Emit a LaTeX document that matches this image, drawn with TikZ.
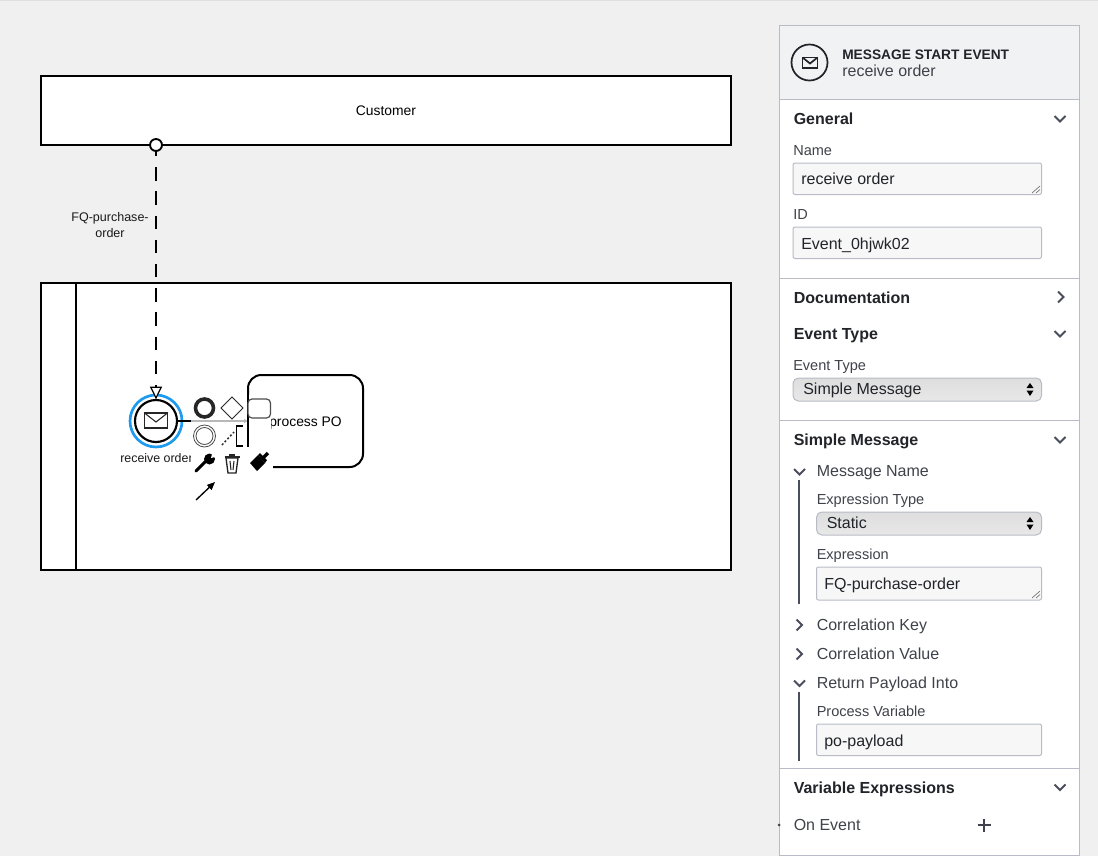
\documentclass[tikz,border=0pt]{standalone}
\usepackage{fontspec}
\setmainfont{Liberation Sans}
\usetikzlibrary{arrows.meta}
\definecolor{canvasbg}{HTML}{F0F0F0}
\definecolor{panelline}{HTML}{B9BCC6}
\definecolor{headbg}{HTML}{F1F2F4}
\definecolor{fieldbg}{HTML}{F7F7F8}
\definecolor{ink}{HTML}{22242A}
\definecolor{soft}{HTML}{3F424A}
\definecolor{chev}{HTML}{4A4E5C}
\definecolor{selblue}{HTML}{1E9BEF}
\newcommand{\fs}[1]{\fontsize{#1}{#1}\selectfont}
\tikzset{
  x=0.75pt,y=-0.75pt,
  band/.style={draw=black,fill=white,line width=1.4pt,minimum width=517.5pt,inner sep=0,outer sep=0},
  diag/.style={text=black!90,inner sep=0},
  head/.style={anchor=base west,inner sep=0,font=\bfseries\fs{12pt},text=ink},
  lab/.style={anchor=base west,inner sep=0,font=\fs{10.9pt},text=soft},
  sub/.style={anchor=base west,inner sep=0,font=\fs{12pt},text=soft},
  val/.style={anchor=base west,inner sep=0,font=\fs{12pt},text=ink},
  fieldbox/.style={draw=panelline,fill=fieldbg,line width=.75pt,rounded corners=1.5pt},
  selbox/.style={draw=panelline,line width=.75pt,rounded corners=4pt,top color=black!13,middle color=black!3,bottom color=black!9},
  chevron/.style={draw=chev,line width=1.5pt},
  rail/.style={draw=chev,line width=1.5pt},
  sep/.style={draw=panelline,line width=.75pt},
  padicon/.style={draw=black!85,line width=.75pt,fill=white},
  handle/.style={draw=black!55,line width=.5pt}
}
\begin{document}
\begin{tikzpicture}
\useasboundingbox (0,0) rectangle (1098,856);
\fill[canvasbg] (0,0) rectangle (1098,856);
\draw[black!12,line width=.75pt] (0,0.5) -- (1098,0.5);

% diagram
\node[band,minimum height=51.75pt,font=\fs{10.4pt}] (customer) at (386,110.5) {Customer};
\node[band,minimum height=215.25pt] (lane) at (386,426.5) {};
\draw[black,line width=1.4pt] (75.8,283) -- (75.8,570);
\node[draw=black,fill=white,line width=1.5pt,rounded corners=10pt,minimum width=86.25pt,minimum height=69pt,inner sep=0,outer sep=0,font=\fs{10.4pt}] (task) at (305.5,421) {\raisebox{-3.75pt}[0pt][0pt]{process PO}};
\draw[selblue,line width=2pt] (156,421) circle (26);
\node[circle,draw=black,fill=white,line width=1.6pt,minimum size=31.5pt,inner sep=0,outer sep=0] (event) at (156,421) {};
\draw[black!85,line width=.8pt,fill=white] (144.5,413) rectangle (167.5,428);
\draw[black!85,line width=.8pt] (144.5,413) -- (156,422) -- (167.5,413);
\node[diag,font=\fs{9.3pt}] (eventlabel) at (156.5,458) {receive order};
\node[circle,draw=black,fill=white,line width=1.4pt,minimum size=9pt,inner sep=0,outer sep=0] (port) at (156,145) {};
\draw[black,line width=1.4pt,dash pattern=on 9.98pt off 8.17pt,dash phase=6pt,-{Triangle[open,fill=white,width=9pt,length=9.5pt,line width=.9pt]},shorten >=.5pt] (port.south) -- (event.north);
\node[diag,align=center,font=\fs{9.4pt}] (flowlabel) at (110,225) {FQ-purchase-\\[2.2pt]order};
\draw[black,line width=1.4pt,-{Triangle[width=3pt,length=3pt]}] (event.east) -- (task.west);

% context pad
\fill[white,opacity=.72] (191,395) rectangle (247,447);
\fill[white] (249,395) rectangle (271,447);
\fill[white] (191,447) rectangle (273,473);
\fill[white,opacity=.85] (191,473) rectangle (218,505);
\draw[black!85,line width=2.7pt] (204.5,408) circle (9);
\draw[padicon,line join=miter] (232,397) -- (243,408) -- (232,419) -- (221,408) -- cycle;
\draw[black!70,line width=.9pt,fill=white,rounded corners=3pt] (248,399) rectangle (270.5,418);
\draw[black!70,line width=.6pt] (204.5,436) circle (11);
\draw[black!70,line width=.6pt] (204.5,436) circle (8.5);
\draw[black!80,line width=1.1pt,dash pattern=on 1.5pt off 1.5pt] (222,445) -- (234,432);
\draw[black,line width=1pt] (243,426) -- (236.5,426) -- (236.5,446) -- (243,446);
% wrench
\draw[black,line width=2.2pt,line cap=round] (196,471) -- (207,460);
\fill[black] (209.5,459) circle (5.5);
\fill[white] (211,458) -- (213,450) -- (219,456) -- cycle;
% trash
\draw[black!85,line width=1pt,line join=round] (224.5,457) -- (239.5,457);
\draw[black!85,line width=1pt,fill=white] (226,458) -- (228,473) -- (236,473) -- (238,458) -- cycle;
\fill[black!85] (229,454) rectangle (235,457);
\draw[black!85,line width=.8pt] (230,461) -- (231,470) (234,461) -- (233,470);
% brush
\fill[black] (250,463) -- (258,455) -- (265,463) -- (257,471) -- cycle;
\fill[black] (258,455) -- (260,453) -- (267,460) -- (265,463) -- cycle;
\draw[black,line width=2.6pt] (262,459) -- (268,453);
% arrow icon
\draw[black,line width=1pt,-{Triangle[width=5pt,length=6pt]}] (196,500) -- (215,482);

% panel
\draw[panelline,fill=white,line width=.75pt] (779.5,26) rectangle (1079.5,855);
\fill[headbg] (780,26.5) rectangle (1079,99);
\draw[sep] (779.5,99) -- (1079.5,99);
\draw[sep] (779.5,278) -- (1079.5,278);
\draw[sep] (779.5,420.5) -- (1079.5,420.5);
\draw[sep] (779.5,768.5) -- (1079.5,768.5);
\draw[ink,line width=1.3pt] (809.5,62.5) circle (18);
\draw[ink,line width=1.3pt] (802.5,57.5) rectangle (817.5,68);
\draw[ink,line width=1.3pt] (802.5,57.5) -- (810,63.5) -- (817.5,57.5);
\node[anchor=base west,inner sep=0,font=\bfseries\fs{10.3pt},text=ink] (ptitle) at (842,59.5) {MESSAGE START EVENT};
\node[sub] (pname) at (842,76) {receive order};

\node[head] (hgeneral) at (793.5,124) {General};
\draw[chevron] (1054.5,116) -- (1060,121.5) -- (1065.5,116);
\node[lab] (lname) at (793,155) {Name};
\draw[fieldbox] (793,163) rectangle (1041.5,194.5);
\node[val] (vname) at (801,184) {receive order};
\draw[handle] (1032,193) -- (1040,186) (1036,193) -- (1040,189.5);
\node[lab] (lid) at (793,219) {ID};
\draw[fieldbox] (793,227) rectangle (1041.5,258.5);
\node[val] (vid) at (801,249) {Event\_0hjwk02};

\node[head] (hdoc) at (793.5,303) {Documentation};
\draw[chevron] (1058,291.5) -- (1063.5,297) -- (1058,302.5);
\node[head] (hetype) at (793.5,339) {Event Type};
\draw[chevron] (1054.5,331) -- (1060,336.5) -- (1065.5,331);
\node[lab] (letype) at (793,370) {Event Type};
\path[selbox] (793,378) rectangle (1041.5,401);
\node[val] (vetype) at (803,394) {Simple Message};
\fill[black] (1030,383) -- (1033.5,388) -- (1026.5,388) -- cycle;
\fill[black] (1030,396) -- (1033.5,390.5) -- (1026.5,390.5) -- cycle;

\node[head] (hsimple) at (793.5,445) {Simple Message};
\draw[chevron] (1054.5,437) -- (1060,442.5) -- (1065.5,437);
\draw[chevron] (794,469) -- (799.5,474.5) -- (805,469);
\node[sub] (lmname) at (816.5,476) {Message Name};
\draw[rail] (799,480) -- (799,604);
\node[lab] (lexptype) at (816.5,504) {Expression Type};
\path[selbox] (816.5,512) rectangle (1041.5,535);
\node[val] (vexptype) at (826.5,528) {Static};
\fill[black] (1030,517) -- (1033.5,522) -- (1026.5,522) -- cycle;
\fill[black] (1030,530) -- (1033.5,524.5) -- (1026.5,524.5) -- cycle;
\node[lab] (lexp) at (816.5,559) {Expression};
\draw[fieldbox] (816.5,567) rectangle (1041.5,600);
\node[val] (vexp) at (824,589) {FQ-purchase-order};
\draw[handle] (1032,598) -- (1040,591) (1036,598) -- (1040,594.5);

\draw[chevron] (796.5,619.5) -- (802,625) -- (796.5,630.5);
\node[sub] (lckey) at (816.5,630) {Correlation Key};
\draw[chevron] (796.5,648.5) -- (802,654) -- (796.5,659.5);
\node[sub] (lcval) at (816.5,659) {Correlation Value};
\draw[chevron] (794,680.5) -- (799.5,686) -- (805,680.5);
\node[sub] (lret) at (816.5,688) {Return Payload Into};
\draw[rail] (799,692) -- (799,761);
\node[lab] (lpvar) at (816.5,716) {Process Variable};
\draw[fieldbox] (816.5,724) rectangle (1041.5,755.5);
\node[val] (vpvar) at (824,746) {po-payload};

\node[head] (hvar) at (793.5,793) {Variable Expressions};
\draw[chevron] (1054.5,784.5) -- (1060,790) -- (1065.5,784.5);
\node[sub] (lon) at (793.5,830) {On Event};
\draw[soft,line width=1.5pt] (977.5,825) -- (990.5,825) (984,818.5) -- (984,831.5);
\fill[soft] (779,825) circle (1.5);
\end{tikzpicture}
\end{document}
